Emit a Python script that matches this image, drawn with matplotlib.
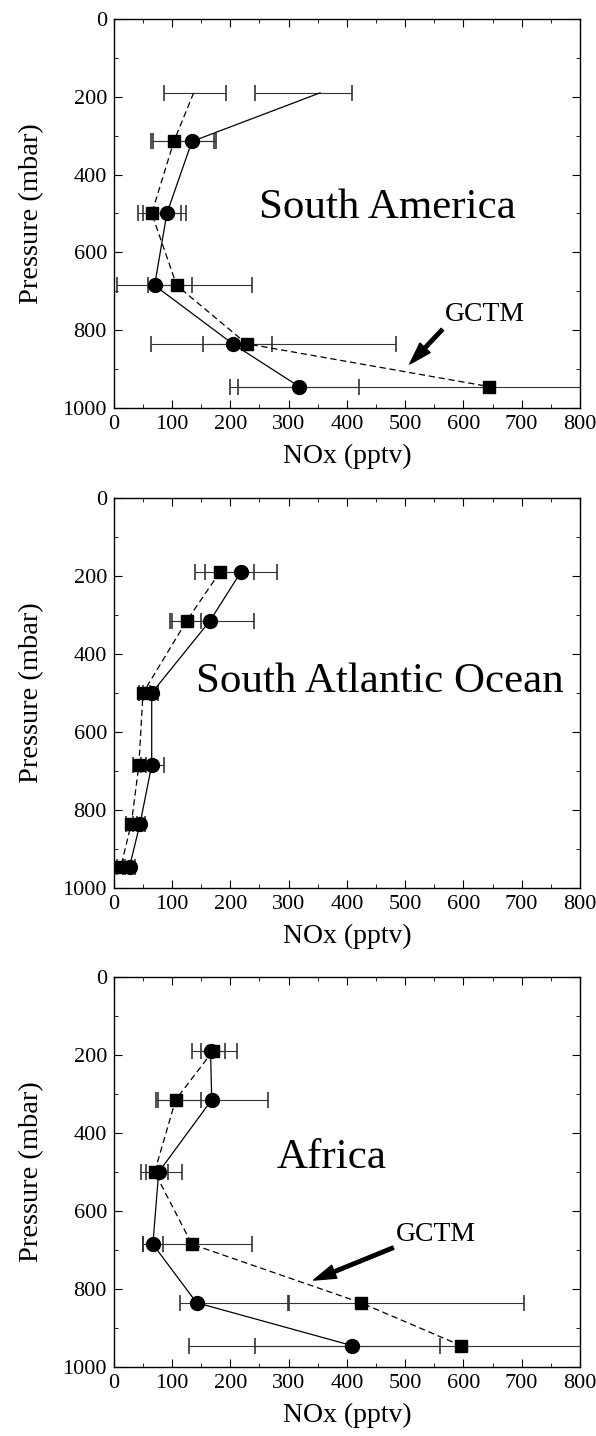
import matplotlib.pyplot as plt
from matplotlib.ticker import MultipleLocator
import numpy as np

plt.rcParams['font.family'] = ['Liberation Serif', 'DejaVu Serif']

# niveles de presion (mbar)
pressure = [190, 315, 500, 685, 835, 945]

# South America: observaciones (circulos) y GCTM (cuadrados)
sam_obs = [354, 134, 91, 70, 204, 318]
sam_obs_lo = [242, 68, 42, 5, 64, 199]
sam_obs_hi = [409, 176, 124, 135, 272, 421]
sam_mod = [137, 103, 65, 108, 228, 644]
sam_mod_lo = [86, 63, 50, 59, 153, 213]
sam_mod_hi = [192, 172, 115, 237, 485, 1075]

# South Atlantic Ocean
sao_obs = [218, 165, 65, 65, 45, 27]
sao_obs_lo = [156, 96, 50, 46, 33, 16]
sao_obs_hi = [280, 240, 76, 86, 53, 36]
sao_mod = [182, 125, 50, 43, 30, 12]
sao_mod_lo = [139, 100, 43, 33, 21, 5]
sao_mod_hi = [240, 150, 62, 55, 40, 20]

# Africa
afr_obs = [166, 168, 77, 67, 142, 409]
afr_obs_lo = [134, 72, 46, 50, 113, 129]
afr_obs_hi = [211, 264, 117, 84, 299, 560]
afr_mod = [170, 106, 70, 134, 424, 596]
afr_mod_lo = [150, 76, 55, 50, 300, 243]
afr_mod_hi = [191, 149, 93, 237, 704, 950]


def plot_panel(ax, obs, obs_lo, obs_hi, mod, mod_lo, mod_hi, title, title_xy,
               gctm=None, marks=None):
    p = np.array(pressure)
    for x, lo, hi in [(obs, obs_lo, obs_hi), (mod, mod_lo, mod_hi)]:
        x = np.array(x)
        xerr = [x - np.array(lo), np.array(hi) - x]
        ax.errorbar(x, p, xerr=xerr, fmt='none', ecolor='#333333',
                    elinewidth=0.8, capsize=6, capthick=1.2)
    if marks is None:
        marks = list(range(len(pressure)))
    ax.plot(obs, p, '-', color='black', lw=0.9, marker='o', ms=10,
            markevery=marks, mfc='black', mec='black')
    ax.plot(mod, p, '--', color='black', lw=0.9, dashes=(5, 3), marker='s',
            ms=8.5, markevery=marks, mfc='black', mec='black')

    ax.text(title_xy[0], title_xy[1], title, fontsize=31, ha='center', va='center')
    if gctm is not None:
        ax.annotate('GCTM', xy=gctm[1], xytext=gctm[0], fontsize=20,
                    ha='center', va='center',
                    arrowprops=dict(facecolor='black', edgecolor='black',
                                    width=2.5, headwidth=10, headlength=16, shrink=0.0))

    ax.set_xlim(0, 800)
    ax.set_ylim(1000, 0)
    ax.xaxis.set_major_locator(MultipleLocator(100))
    ax.xaxis.set_minor_locator(MultipleLocator(50))
    ax.yaxis.set_major_locator(MultipleLocator(200))
    ax.yaxis.set_minor_locator(MultipleLocator(100))
    ax.tick_params(which='both', direction='in', top=True, right=True, labelsize=16)
    ax.tick_params(which='major', length=6, pad=5)
    ax.tick_params(which='minor', length=3)
    ax.set_xlabel('NOx (pptv)', fontsize=20, labelpad=7)
    ax.set_ylabel('Pressure (mbar)', fontsize=20.5, labelpad=13)
    for s in ax.spines.values():
        s.set_linewidth(1.0)


fig = plt.figure(figsize=(5.96, 14.36), dpi=100)
ax1 = fig.add_axes([0.191, 0.7159, 0.782, 0.2709])
ax2 = fig.add_axes([0.191, 0.3816, 0.782, 0.2716])
ax3 = fig.add_axes([0.191, 0.0480, 0.782, 0.2716])

plot_panel(ax1, sam_obs, sam_obs_lo, sam_obs_hi, sam_mod, sam_mod_lo, sam_mod_hi,
           'South America', (469, 485), gctm=((637, 759), (508, 887)),
           marks=[1, 2, 3, 4, 5])
plot_panel(ax2, sao_obs, sao_obs_lo, sao_obs_hi, sao_mod, sao_mod_lo, sao_mod_hi,
           'South Atlantic Ocean', (457, 472))
plot_panel(ax3, afr_obs, afr_obs_lo, afr_obs_hi, afr_mod, afr_mod_lo, afr_mod_hi,
           'Africa', (374, 464), gctm=((553, 659), (343, 777)))

fig.savefig('out.png', dpi=100)
plt.close()
